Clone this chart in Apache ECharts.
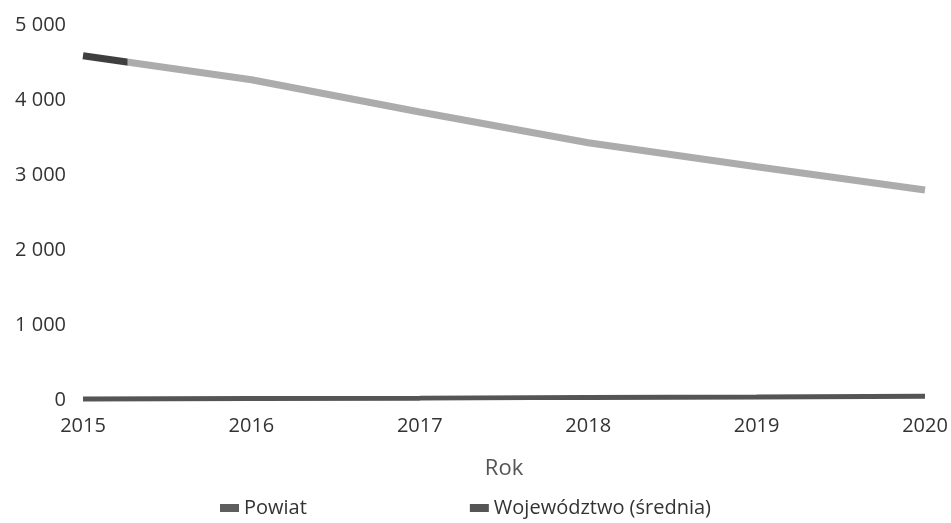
<!DOCTYPE html>
<html>
<head>
<meta charset="utf-8">
<script src="https://cdn.jsdelivr.net/npm/echarts@6/dist/echarts.min.js"></script>
<style>html,body{margin:0;padding:0;background:#fff}#c{width:951px;height:523px}</style>
</head>
<body>
<div id="c"></div>
<script>
const years = ['2015', '2016', '2017', '2018', '2019', '2020'];
const powiat = [4590, 4270, 3840, 3430, 3110, 2800];
const wojewodztwo = [15, 20, 25, 35, 40, 50];
const seriesNames = ['Powiat', 'Województwo (średnia)'];
const yTicks = { min: 0, max: 5000, interval: 1000 };

const chart = echarts.init(document.getElementById('c'));
const font = 'Open Sans';
chart.setOption({
  animation: false,
  textStyle: { fontFamily: font },
  grid: { left: 83, right: 26, top: 25, bottom: 123, containLabel: false },
  legend: {
    top: 498,
    left: 220,
    itemGap: 163,
    itemWidth: 19,
    itemHeight: 8,
    itemTextGap: 6,
    icon: 'rect',
    padding: 0,
    textStyle: { fontSize: 20, color: '#333', fontFamily: font },
    data: [
      { name: seriesNames[0], itemStyle: { color: '#5e5e5e' } },
      { name: seriesNames[1], itemStyle: { color: '#555' } }
    ]
  },
  xAxis: {
    type: 'category',
    data: years,
    boundaryGap: false,
    name: 'Rok',
    nameLocation: 'middle',
    nameGap: 58,
    nameTextStyle: { fontSize: 22, color: '#555', fontFamily: font },
    axisLine: { show: false },
    axisTick: { show: false },
    axisLabel: { fontSize: 20, color: '#333', margin: 16, fontFamily: font },
    splitLine: { show: false }
  },
  yAxis: {
    type: 'value',
    min: yTicks.min,
    max: yTicks.max,
    interval: yTicks.interval,
    axisLine: { show: false },
    axisTick: { show: false },
    splitLine: { show: false },
    axisLabel: {
      fontSize: 20, color: '#333', margin: 17, fontFamily: font,
      formatter: v => String(v).replace(/\B(?=(\d{3})+(?!\d))/g, ' ')
    }
  },
  series: [
    {
      name: seriesNames[0],
      type: 'line',
      data: powiat,
      symbol: 'none',
      lineStyle: {
        width: 7,
        color: new echarts.graphic.LinearGradient(0, 0, 1, 0, [
          { offset: 0, color: '#3f3f3f' },
          { offset: 0.056, color: '#3f3f3f' },
          { offset: 0.057, color: '#acacac' },
          { offset: 1, color: '#acacac' }
        ])
      },
      itemStyle: { color: '#5e5e5e' },
      z: 3
    },
    {
      name: seriesNames[1],
      type: 'line',
      data: wojewodztwo,
      symbol: 'none',
      lineStyle: { width: 5, color: '#555' },
      itemStyle: { color: '#555' },
      z: 2
    }
  ]
});
</script>
</body>
</html>
